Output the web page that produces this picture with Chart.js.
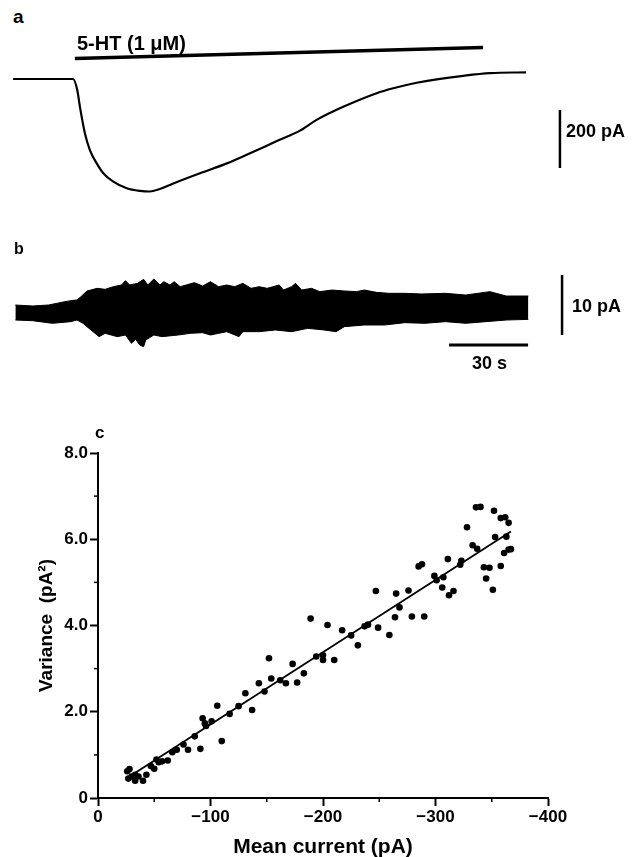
<!DOCTYPE html>
<html>
<head>
<meta charset="utf-8">
<script src="https://cdn.jsdelivr.net/npm/chart.js@4.4.0/dist/chart.umd.min.js"></script>
<style>
body { margin:0; background:#fff; width:636px; height:857px; overflow:hidden; position:relative; font-family:"Liberation Sans", Arial, sans-serif; }
canvas { position:absolute; }
.lbl { position:absolute; font-weight:bold; line-height:1; white-space:nowrap; color:#000; }
</style>
</head>
<body>
<canvas id="traceA" width="636" height="180" style="left:0;top:30px"></canvas>
<canvas id="traceB" width="636" height="110" style="left:0;top:255px"></canvas>
<canvas id="plotC" width="636" height="445" style="left:0;top:420px"></canvas>

<div class="lbl" style="left:13px;top:7px;font-size:19px">a</div>
<div class="lbl" style="left:77px;top:33px;font-size:20px">5-HT (1 &mu;M)</div>
<div class="lbl" style="left:566px;top:122px;font-size:18px">200 pA</div>
<div class="lbl" style="left:14px;top:241px;font-size:16px">b</div>
<div class="lbl" style="left:572px;top:297px;font-size:18px">10 pA</div>
<div class="lbl" style="left:472px;top:354px;font-size:18px">30 s</div>
<div class="lbl" style="left:95px;top:424px;font-size:17px">c</div>

<script>
// panel a : whole-cell current (s, pA)
var traceTime = [0, 22.8, 24.4, 25.4, 27.3, 29.2, 31.8, 34.3, 38.1, 43.2, 48.2, 52, 55.5, 60.9, 71, 81.2, 90, 96.4, 100.2, 109, 115.3, 125.4, 138.1, 144.4, 153.3, 160.9, 171, 181.2, 194.8];
var traceCurrent = [0, 0, -38, -95, -187, -245, -291, -325, -354, -377, -386, -388, -380, -360, -325, -291, -256, -230, -214, -178, -141, -96, -49, -32, -13, -1, 11, 20, 23];
var drugTime = [23.5, 178.5];
var drugLevel = [71, 109];

// panel b : current noise envelope (s, pA)
var noiseTopTime = [0.9, 7.4, 13.5, 19.7, 22, 24.3, 25.8, 28.1, 32, 35, 38.1, 41.2, 42.7, 44.3, 47.3, 49.6, 51.2, 53.5, 55.8, 57.3, 59.6, 61.2, 63.5, 65.8, 68.9, 72, 75, 78.1, 81.2, 84.2, 87.3, 90.4, 93.5, 96.5, 101.1, 102.7, 105.8, 107.3, 109.6, 113.4, 116.5, 121.1, 125.8, 130.4, 133.4, 138, 142.7, 148.8, 155, 164.2, 171.9, 181.1, 187.3, 195.7];
var noiseTop = [0.83, 0.67, 0.83, 1.39, 1.56, 1.67, 2.22, 3.17, 3.61, 3.44, 3.89, 4.17, 4.89, 4.17, 4.44, 5.11, 4.17, 5.17, 4.17, 4.72, 4.17, 4.72, 3.89, 4.17, 4.56, 4.0, 4.72, 3.89, 4.17, 3.89, 4.44, 3.61, 3.89, 3.61, 4.17, 3.33, 3.89, 4.44, 3.33, 3.61, 3.06, 3.33, 3.17, 3.06, 3.33, 2.94, 2.78, 2.78, 2.67, 2.78, 2.5, 3.06, 2.33, 2.33];
var noiseBottomTime = [0.9, 7.4, 15, 22, 24.3, 26.6, 28.1, 30.4, 32.7, 35, 39.6, 42.7, 45, 46.6, 48.1, 49.6, 50.4, 53.5, 56.6, 62.7, 67.3, 72, 75, 78.1, 81.2, 85.8, 87.3, 93.5, 99.6, 105.8, 111.9, 118.1, 122.7, 125.8, 133.4, 141.1, 148.8, 156.5, 164.2, 171.9, 179.6, 187.3, 195.7];
var noiseBottom = [-1.67, -1.78, -2.22, -1.94, -1.67, -2.22, -2.78, -3.61, -4.44, -3.89, -4.44, -4.17, -5.56, -4.89, -5.83, -6.11, -5.0, -4.17, -4.44, -4.17, -3.89, -3.78, -4.17, -3.89, -3.61, -4.44, -3.61, -3.61, -3.33, -3.61, -3.06, -3.33, -3.61, -2.78, -2.5, -2.5, -2.11, -2.22, -1.94, -2.22, -1.94, -1.67, -1.56];

// panel c : variance vs mean current
var meanCurrent = [-26, -28, -27, -30, -33, -33, -36, -40, -43, -47, -50, -52, -54, -57, -62, -66, -70, -76, -80, -86, -91, -93, -95, -96, -101, -106, -110, -117, -125, -131, -137, -143, -148, -152, -154, -162, -167, -173, -177, -183, -189, -194, -200, -200, -204, -210, -217, -225, -231, -237, -240, -247, -249, -259, -264, -265, -268, -276, -279, -290, -285, -288, -299, -301, -306, -307, -311, -312, -316, -322, -323, -328, -333, -337, -336, -340, -343, -345, -348, -351, -352, -353, -358, -358, -362, -365, -363, -361, -365, -367];
var variance = [0.62, 0.67, 0.45, 0.50, 0.54, 0.40, 0.50, 0.40, 0.54, 0.74, 0.68, 0.89, 0.83, 0.85, 0.87, 1.06, 1.12, 1.24, 1.12, 1.43, 1.14, 1.85, 1.73, 1.67, 1.78, 2.14, 1.32, 1.95, 2.13, 2.43, 2.04, 2.66, 2.47, 3.24, 2.77, 2.73, 2.66, 3.11, 2.68, 2.89, 4.16, 3.28, 3.31, 3.20, 4.01, 3.20, 3.89, 3.77, 3.54, 3.98, 4.02, 4.80, 3.95, 3.78, 4.19, 4.74, 4.42, 4.81, 4.21, 4.21, 5.37, 5.42, 5.15, 5.05, 4.88, 5.12, 5.54, 4.70, 4.80, 5.41, 5.50, 6.28, 5.86, 5.78, 6.74, 6.75, 5.35, 5.09, 5.34, 4.83, 6.66, 6.05, 5.38, 6.49, 6.51, 6.38, 6.06, 5.68, 5.76, 5.77];
var fitCurrent = [-28, -367];
var fitVariance = [0.50, 6.18];
var xTicks = [0, -100, -200, -300, -400];
var yTicks = [0, 2, 4, 6, 8];

function pts(xs, ys) {
  var out = [];
  for (var i = 0; i < xs.length; i++) out.push({x: xs[i], y: ys[i]});
  return out;
}

// shared time base for a and b: trace starts at x=13, 30 s = 79 px
var pxPerSec = 79 / 30;
var t0px = 13;
var timeScale = { type: 'linear', display: false, min: -t0px / pxPerSec, max: (636 - t0px) / pxPerSec };

function lineSet(data, width, extra) {
  var d = { data: data, borderColor: '#000', borderWidth: width, pointRadius: 0, fill: false, clip: false };
  for (var k in extra) d[k] = extra[k];
  return d;
}

// ---- panel a
var pxPerPA_a = 58 / 200;
var baseA = 79 - 30;
new Chart(document.getElementById('traceA'), {
  type: 'line',
  data: {
    datasets: [
      lineSet(pts(traceTime, traceCurrent), 2.2, { cubicInterpolationMode: 'monotone' }),
      lineSet(pts(drugTime, drugLevel), 3.5, {}),
      lineSet([{x: 207.7, y: -107}, {x: 207.7, y: -307}], 2.5, {})
    ]
  },
  options: {
    responsive: false, animation: false,
    plugins: { legend: { display: false }, tooltip: { enabled: false } },
    scales: {
      x: timeScale,
      y: { type: 'linear', display: false, min: -(180 - baseA) / pxPerPA_a, max: baseA / pxPerPA_a }
    }
  }
});

// ---- panel b
var pxPerPA_b = 6;
var baseB = 310 - 255;
new Chart(document.getElementById('traceB'), {
  type: 'line',
  data: {
    datasets: [
      lineSet(pts(noiseTopTime, noiseTop), 1, { fill: '+1', backgroundColor: '#000' }),
      lineSet(pts(noiseBottomTime, noiseBottom), 1, {}),
      lineSet([{x: 208.5, y: 5.83}, {x: 208.5, y: -4.17}], 2.5, {}),
      lineSet([{x: 165.6, y: -5.83}, {x: 195.6, y: -5.83}], 3, {})
    ]
  },
  options: {
    responsive: false, animation: false,
    plugins: { legend: { display: false }, tooltip: { enabled: false } },
    scales: {
      x: timeScale,
      y: { type: 'linear', display: false, min: -(110 - baseB) / pxPerPA_b, max: baseB / pxPerPA_b }
    }
  }
});

// ---- panel c
var minorTicks = {
  id: 'minorTicks',
  afterDraw: function(chart) {
    var ctx = chart.ctx, xs = chart.scales.x, ys = chart.scales.y;
    ctx.save();
    ctx.strokeStyle = '#000';
    ctx.lineWidth = 1.5;
    [1, 3, 5, 7].forEach(function(v) {
      var y = ys.getPixelForValue(v);
      ctx.beginPath(); ctx.moveTo(xs.left - 4, y); ctx.lineTo(xs.left, y); ctx.stroke();
    });
    [-50, -150, -250, -350].forEach(function(v) {
      var x = xs.getPixelForValue(v);
      ctx.beginPath(); ctx.moveTo(x, ys.bottom); ctx.lineTo(x, ys.bottom + 4); ctx.stroke();
    });
    ctx.restore();
  }
};

var tickFont = { family: '"Liberation Sans", Arial, sans-serif', size: 17, weight: 'bold' };
new Chart(document.getElementById('plotC'), {
  type: 'scatter',
  data: {
    datasets: [
      { data: pts(meanCurrent, variance), pointRadius: 3.3, pointBackgroundColor: '#000', pointBorderWidth: 0 },
      { type: 'line', data: pts(fitCurrent, fitVariance), borderColor: '#000', borderWidth: 1.8, pointRadius: 0, fill: false }
    ]
  },
  options: {
    responsive: false, animation: false,
    layout: { padding: { top: 33, right: 88, left: 0, bottom: 0 } },
    plugins: { legend: { display: false }, tooltip: { enabled: false } },
    scales: {
      x: {
        type: 'linear', reverse: true, min: -400, max: 0,
        afterFit: function(s) { s.height = 67; },
        afterBuildTicks: function(s) { s.ticks = xTicks.map(function(v) { return {value: v}; }); },
        border: { display: true, color: '#000', width: 2 },
        grid: { drawOnChartArea: false, drawTicks: true, tickLength: 8, tickWidth: 2, color: '#000' },
        ticks: { color: '#000', font: tickFont, padding: 1, maxRotation: 0, autoSkip: false,
          callback: function(v) { return v === 0 ? '0' : '\u2212' + Math.abs(v); } },
        title: { display: true, text: 'Mean current (pA)', color: '#000',
          font: { family: '"Liberation Sans", Arial, sans-serif', size: 21, weight: 'bold' },
          padding: { top: 0, bottom: 5 } }
      },
      y: {
        type: 'linear', min: 0, max: 8,
        afterFit: function(s) { s.width = 98; },
        afterBuildTicks: function(s) { s.ticks = yTicks.map(function(v) { return {value: v}; }); },
        border: { display: true, color: '#000', width: 2 },
        grid: { drawOnChartArea: false, drawTicks: true, tickLength: 8, tickWidth: 2, color: '#000' },
        ticks: { color: '#000', font: tickFont, padding: 2,
          callback: function(v) { return v === 0 ? '0' : v.toFixed(1); } },
        title: { display: true, text: 'Variance  (pA\u00b2)', color: '#000',
          font: { family: '"Liberation Sans", Arial, sans-serif', size: 19, weight: 'bold' },
          padding: { top: 35, bottom: 0 } }
      }
    }
  },
  plugins: [minorTicks]
});
</script>
</body>
</html>
